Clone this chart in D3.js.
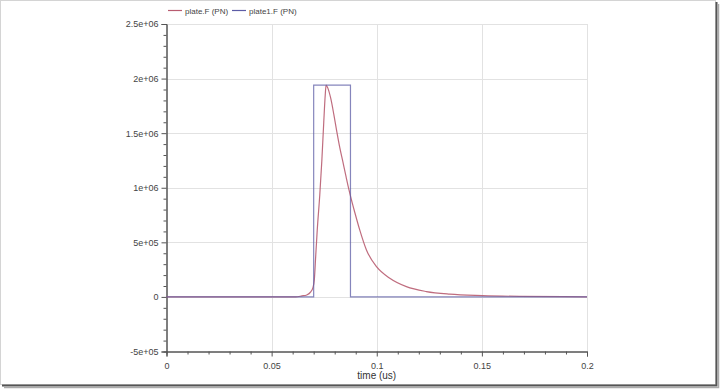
<!DOCTYPE html>
<html>
<head>
<meta charset="utf-8">
<script src="https://cdn.jsdelivr.net/npm/d3@7"></script>
<style>
  body { margin: 0; background: #fff; }
  svg { display: block; font-family: "Liberation Sans", Arial, sans-serif; }
</style>
</head>
<body>
<svg width="721" height="389"></svg>
<script>
const redTime = [0, 0.0615, 0.0644, 0.0667, 0.0686, 0.0696, 0.0703, 0.0710, 0.0717, 0.0729,
  0.0739, 0.0748, 0.0755, 0.0759, 0.0767, 0.0781, 0.0796, 0.0810, 0.0824, 0.0839, 0.0853,
  0.0868, 0.0876, 0.0895, 0.0919, 0.0951, 0.1001, 0.1062, 0.1141, 0.1236, 0.1347, 0.1502,
  0.1679, 0.2];
const redValue = [0, 0, 9e3, 18e3, 46e3, 82e3, 156e3, 385e3, 614e3, 934e3,
  1255e3, 1603e3, 1850e3, 1941e3, 1915e3, 1820e3, 1670e3, 1515e3, 1370e3, 1236e3, 1110e3,
  980e3, 916e3, 778e3, 614e3, 430e3, 272e3, 171e3, 94e3, 49e3, 25e3, 12e3,
  5e3, 1e3];

// plate1.F (PN): rectangular pulse
const blueTime = [0, 0.07, 0.07, 0.0875, 0.0875, 0.2];
const blueValue = [0, 0, 1.94e6, 1.94e6, 0, 0];

const xTickValues = [0, 0.05, 0.1, 0.15, 0.2];
const xTickLabels = ['0', '0.05', '0.1', '0.15', '0.2'];
const yTickValues = [-5e5, 0, 5e5, 1e6, 1.5e6, 2e6, 2.5e6];
const yTickLabels = ['-5e+05', '0', '5e+05', '1e+06', '1.5e+06', '2e+06', '2.5e+06'];

const seriesNames = ['plate.F (PN)', 'plate1.F (PN)'];
const seriesColors = ['#b85c70', '#5c5ca6'];

const svg = d3.select('svg');

// window frame
svg.append('rect')
  .attr('x', 0.5).attr('y', 0.5)
  .attr('width', 715).attr('height', 384)
  .attr('fill', '#fff')
  .attr('stroke', '#d4d4d4');
svg.append('path')
  .attr('d', 'M716.5,2V385.5H2')
  .attr('fill', 'none').attr('stroke', '#555').attr('stroke-width', 2);
svg.append('path')
  .attr('d', 'M718.5,4V387.5H4')
  .attr('fill', 'none').attr('stroke', '#aaa').attr('stroke-width', 1.5);

const x = d3.scaleLinear().domain([0, 0.2]).range([166.5, 587]);
const y = d3.scaleLinear().domain([-5e5, 2.5e6]).range([351.5, 24]);

// grid
const grid = svg.append('g').attr('stroke', '#e2e2e2').attr('stroke-width', 1);
grid.selectAll('.gx').data(xTickValues.slice(1)).enter().append('line')
  .attr('x1', d => Math.round(x(d)) + 0.5).attr('x2', d => Math.round(x(d)) + 0.5)
  .attr('y1', y(2.5e6)).attr('y2', y(-5e5));
grid.selectAll('.gy').data(yTickValues.slice(1)).enter().append('line')
  .attr('x1', x(0)).attr('x2', x(0.2))
  .attr('y1', d => Math.round(y(d)) + 0.5).attr('y2', d => Math.round(y(d)) + 0.5);

// axes
const fmtX = d => xTickLabels[xTickValues.indexOf(d)];
const fmtY = d => yTickLabels[yTickValues.indexOf(d)];

const xAxis = svg.append('g').attr('transform', `translate(0,${y(-5e5)})`);
xAxis.call(d3.axisBottom(x).tickValues(d3.range(0, 21).map(i => i / 100))
  .tickSize(3).tickFormat(() => ''));
xAxis.call(g => g.selectAll('.tick').filter(d => xTickValues.some(v => Math.abs(v - d) < 1e-9)).remove());
const xMajor = svg.append('g').attr('transform', `translate(0,${y(-5e5)})`);
xMajor.call(d3.axisBottom(x).tickValues(xTickValues).tickSize(5).tickPadding(6).tickFormat(fmtX));

const yAxis = svg.append('g').attr('transform', `translate(${x(0)},0)`);
yAxis.call(d3.axisLeft(y).tickValues(d3.range(-5, 26).map(i => i * 1e5))
  .tickSize(3).tickFormat(() => ''));
yAxis.call(g => g.selectAll('.tick').filter(d => yTickValues.some(v => Math.abs(v - d) < 1))
  .remove());
const yMajor = svg.append('g').attr('transform', `translate(${x(0)},0)`);
yMajor.call(d3.axisLeft(y).tickValues(yTickValues).tickSize(5).tickPadding(3).tickFormat(fmtY));

svg.selectAll('.domain').attr('stroke', '#555');
svg.selectAll('.tick line').attr('stroke', '#555');
svg.selectAll('.tick text').attr('fill', '#444').style('font-size', '9px');

svg.append('text')
  .attr('x', x(0.1)).attr('y', 379)
  .attr('text-anchor', 'middle')
  .attr('fill', '#333')
  .style('font-size', '10px')
  .text('time (us)');

// lines
const line = d3.line().x(d => x(d[0])).y(d => y(d[1]));

svg.append('path')
  .datum(redTime.map((t, i) => [t, redValue[i]]))
  .attr('d', line.curve(d3.curveMonotoneX))
  .attr('fill', 'none')
  .attr('stroke', seriesColors[0])
  .attr('stroke-width', 1.2)
  .attr('opacity', 0.9);

svg.append('path')
  .datum(blueTime.map((t, i) => [t, blueValue[i]]))
  .attr('d', line.curve(d3.curveLinear))
  .attr('fill', 'none')
  .attr('stroke', seriesColors[1])
  .attr('stroke-width', 1.2)
  .attr('opacity', 0.75);

// legend
const legend = svg.append('g').attr('transform', 'translate(168,10)');
const legendX = [0, 64];
seriesNames.forEach((name, i) => {
  const item = legend.append('g').attr('transform', `translate(${legendX[i]},0)`);
  item.append('line')
    .attr('x1', 0).attr('x2', 14).attr('y1', 0.5).attr('y2', 0.5)
    .attr('stroke', seriesColors[i]).attr('stroke-width', 1.2);
  item.append('text')
    .attr('x', 17).attr('y', 3.5)
    .attr('fill', '#444')
    .style('font-size', '8px')
    .text(name);
});
</script>
</body>
</html>
